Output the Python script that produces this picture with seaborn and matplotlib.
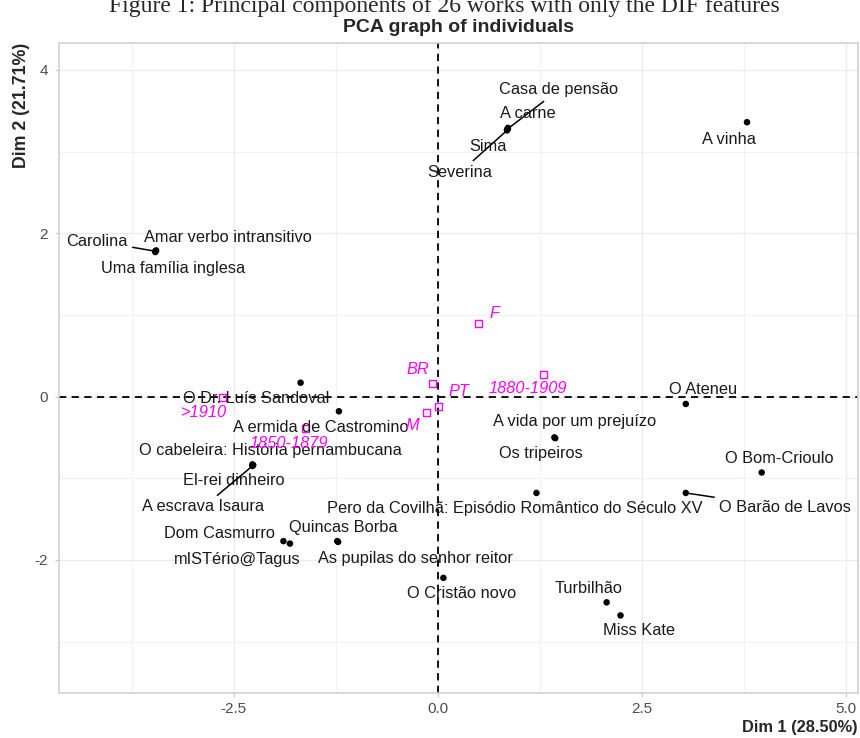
import matplotlib
matplotlib.use("Agg")
import matplotlib.pyplot as plt
from matplotlib.ticker import MultipleLocator, FormatStrFormatter
import seaborn as sns
import pandas as pd

# Individuals (the 26 works) on the first two PCA dimensions
works = [
    "Carolina", "Amar verbo intransitivo", "Uma família inglesa",
    "Casa de pensão", "A carne", "Sima", "Severina",
    "A vinha", "O Dr. Luís Sandoval", "A ermida de Castromino",
    "O cabeleira: História pernambucana", "El-rei dinheiro", "A escrava Isaura",
    "A vida por um prejuízo", "Os tripeiros", "O Ateneu", "O Bom-Crioulo",
    "O Barão de Lavos", "Pero da Covilhã: Episódio Romântico do Século XV",
    "Quincas Borba", "As pupilas do senhor reitor", "O Cristão novo",
    "Turbilhão", "Miss Kate", "Dom Casmurro", "mISTério@Tagus",
]
dim1 = [-3.46, -3.45, -3.46, 0.86, 0.86, 0.85, 0.85, 3.79, -1.68, -1.21,
        -2.27, -2.26, -2.27, 1.43, 1.44, 3.04, 3.97, 3.04, 1.21,
        -1.23, -1.22, 0.07, 2.07, 2.24, -1.89, -1.81]
dim2 = [1.78, 1.79, 1.77, 3.28, 3.29, 3.27, 3.26, 3.36, 0.17, -0.18,
        -0.83, -0.84, -0.85, -0.50, -0.51, -0.09, -0.93, -1.18, -1.18,
        -1.77, -1.78, -2.22, -2.52, -2.68, -1.77, -1.80]

# Supplementary categories (barycentres)
categories = [">1910", "1850-1879", "BR", "PT", "M", "F", "1880-1909"]
cat_dim1 = [-2.64, -1.62, -0.06, 0.01, -0.14, 0.50, 1.30]
cat_dim2 = [-0.01, -0.39, 0.16, -0.12, -0.20, 0.90, 0.27]

# label placement, pixel offsets from the point (what ggrepel produced), and
# whether a leader segment is drawn
label_pos = {
    "Carolina": (-58, 10, True),
    "Amar verbo intransitivo": (72, 13, False),
    "Uma família inglesa": (18, -16, False),
    "Casa de pensão": (51, 39, True),
    "A carne": (20, 14, False),
    "Sima": (-19, -17, False),
    "Severina": (-47, -42, True),
    "A vinha": (-18, -17, False),
    "O Dr. Luís Sandoval": (-44, -16, False),
    "A ermida de Castromino": (-18, -16, False),
    "O cabeleira: História pernambucana": (18, 14, False),
    "El-rei dinheiro": (-19, -15, False),
    "A escrava Isaura": (-49, -41, True),
    "A vida por um prejuízo": (20, 16, False),
    "Os tripeiros": (-14, -15, False),
    "O Ateneu": (17, 14, False),
    "O Bom-Crioulo": (18, 14, False),
    "O Barão de Lavos": (99, -15, True),
    "Pero da Covilhã: Episódio Romântico do Século XV": (-22, -16, False),
    "Quincas Borba": (6, 14, False),
    "As pupilas do senhor reitor": (77, -17, False),
    "O Cristão novo": (18, -16, False),
    "Turbilhão": (-18, 14, False),
    "Miss Kate": (18, -15, False),
    "Dom Casmurro": (-64, 8, False),
    "mISTério@Tagus": (-53, -16, False),
}
cat_pos = {
    ">1910": (-18, -15), "1850-1879": (-17, -15), "BR": (-15, 14),
    "PT": (20, 15), "M": (-14, -13), "F": (16, 10), "1880-1909": (-16, -14),
}

ind = pd.DataFrame({"work": works, "Dim1": dim1, "Dim2": dim2})
quali = pd.DataFrame({"cat": categories, "Dim1": cat_dim1, "Dim2": cat_dim2})

sns.set_theme(style="whitegrid")
plt.rcParams["font.family"] = ["Liberation Sans", "DejaVu Sans"]

fig = plt.figure(figsize=(8.6, 7.38), dpi=100)
ax = fig.add_axes([59 / 860, 1 - 693 / 738, 799 / 860, 650 / 738])
ax.set_facecolor("white")

ax.axhline(0, color="black", lw=1.3, ls=(0, (4, 3)), zorder=1)
ax.axvline(0, color="black", lw=1.3, ls=(0, (4, 3)), zorder=1)

sns.scatterplot(data=ind, x="Dim1", y="Dim2", ax=ax, color="black", s=22,
                edgecolor="none", zorder=3, legend=False)
sns.scatterplot(data=quali, x="Dim1", y="Dim2", ax=ax, marker="s", s=26,
                facecolor="none", edgecolor="#FF00FF", linewidth=1.0,
                zorder=3, legend=False)

for _, row in ind.iterrows():
    dx, dy, seg = label_pos[row["work"]]
    arrow = dict(arrowstyle="-", color="black", lw=1.1, shrinkA=1, shrinkB=2) if seg else None
    ax.annotate(row["work"], (row["Dim1"], row["Dim2"]), xytext=(dx, dy),
                textcoords="offset pixels", ha="center", va="center",
                fontsize=11.8, color="#1a1a1a", arrowprops=arrow, zorder=4)

for _, row in quali.iterrows():
    dx, dy = cat_pos[row["cat"]]
    ax.annotate(row["cat"], (row["Dim1"], row["Dim2"]), xytext=(dx, dy),
                textcoords="offset pixels", ha="center", va="center",
                fontsize=11.8, color="#FF00FF", style="italic", zorder=4)

ax.set_xlim(-4.64, 5.15)
ax.set_ylim(-3.63, 4.33)
ax.xaxis.set_major_locator(MultipleLocator(2.5))
ax.xaxis.set_minor_locator(MultipleLocator(1.25))
ax.yaxis.set_major_locator(MultipleLocator(2))
ax.yaxis.set_minor_locator(MultipleLocator(1))
ax.xaxis.set_major_formatter(FormatStrFormatter("%.1f"))
ax.yaxis.set_major_formatter(FormatStrFormatter("%d"))

ax.grid(which="major", color="#EBEBEB", lw=0.9)
ax.grid(which="minor", color="#F2F2F2", lw=0.9)
ax.set_axisbelow(True)
for sp in ax.spines.values():
    sp.set_color("#D0D0D0")
    sp.set_linewidth(1.2)

ax.tick_params(which="major", length=3, width=0.8, color="#C8C8C8",
               labelcolor="#4D4D4D", labelsize=11, bottom=True, left=True)
ax.tick_params(axis="x", pad=3.5)
ax.tick_params(axis="y", pad=5)
ax.tick_params(which="minor", length=0)

ax.set_xlabel("Dim 1 (28.50%)", fontsize=11.8, fontweight="bold", loc="right")
ax.set_ylabel("Dim 2 (21.71%)", fontsize=12.8, fontweight="bold", loc="top")
ax.xaxis.set_label_coords(1.0, -0.041)
ax.yaxis.set_label_coords(-0.036, 1.0)

ax.set_title("PCA graph of individuals", fontsize=14, fontweight="bold", pad=8)

fig.text(0.517, 1 - 12 / 738, "Figure 1: Principal components of 26 works with only the DIF features",
         family="Liberation Serif", fontsize=17, ha="center", va="baseline")

fig.savefig("out.png", dpi=100)
